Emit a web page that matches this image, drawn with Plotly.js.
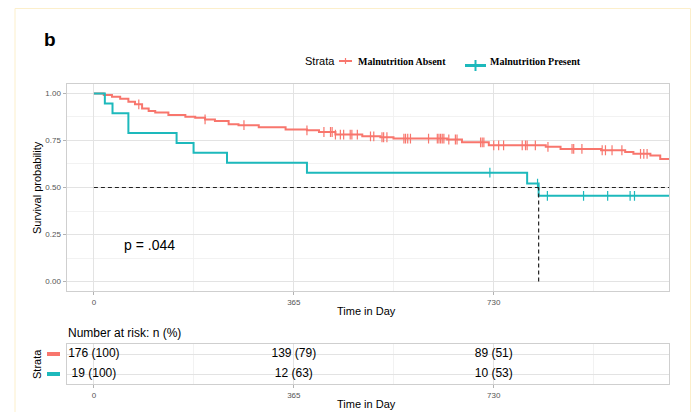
<!DOCTYPE html>
<html>
<head>
<meta charset="utf-8">
<script src="https://cdn.plot.ly/plotly-3.0.1.min.js"></script>
<style>html,body{margin:0;padding:0;background:#fff;}#chart{width:698px;height:412px;}</style>
</head>
<body>
<div id="chart"></div>
<script>
// ---- Data ----
const absentTimes = [0, 18, 33, 48, 63, 75, 88, 100, 112, 136, 167, 185, 203, 221, 246, 264, 301, 350, 389, 411, 441, 490, 523, 547, 645, 672, 721, 825, 852, 926, 970, 985, 1016, 1034, 1060];
const absentSurv  = [1.000, 0.991, 0.982, 0.972, 0.956, 0.942, 0.920, 0.907, 0.898, 0.885, 0.876, 0.871, 0.862, 0.854, 0.836, 0.831, 0.820, 0.808, 0.804, 0.795, 0.781, 0.772, 0.767, 0.760, 0.755, 0.740, 0.724, 0.716, 0.705, 0.698, 0.689, 0.679, 0.670, 0.652, 0.652];
const absentCensor = [82, 203, 274, 389, 420, 432, 435, 441, 450, 456, 468, 471, 481, 505, 511, 526, 529, 535, 566, 569, 573, 578, 611, 627, 630, 633, 636, 639, 648, 660, 663, 706, 709, 712, 730, 739, 748, 782, 788, 791, 806, 829, 873, 876, 891, 928, 934, 946, 964, 998, 1004, 1010];

const presentTimes = [0, 20, 34, 63, 151, 182, 243, 389, 791, 812, 1060];
const presentSurv  = [1.000, 0.947, 0.895, 0.789, 0.737, 0.684, 0.632, 0.579, 0.521, 0.456, 0.456];
const presentCensor = [723, 810, 828, 894, 938, 979, 987];

const riskTimes = [0, 365, 730];
const riskAbsent = ["176 (100)", "139 (79)", "89 (51)"];
const riskPresent = ["19 (100)", "12 (63)", "10 (53)"];

const xTicks = [0, 365, 730];
const yTicks = [0, 0.25, 0.5, 0.75, 1];
const yTickText = ["0.00", "0.25", "0.50", "0.75", "1.00"];
const pValueText = "p = .044";

// ---- Styles ----
const RED = "#F8766D";
const TEAL = "#1DB9BC";
const W = 698, H = 412;
const px = v => v / W;
const py = v => 1 - v / H;

function stepAt(ts, ss, t) {
  let v = ss[0];
  for (let i = 0; i < ts.length; i++) if (ts[i] <= t) v = ss[i];
  return v;
}
function median(ts, ss) {
  for (let i = 0; i < ts.length; i++) if (ss[i] <= 0.5) return ts[i];
  return null;
}

const traces = [
  {x: absentTimes, y: absentSurv, type: "scatter", mode: "lines", line: {shape: "hv", color: RED, width: 2}, xaxis: "x", yaxis: "y", hoverinfo: "skip"},
  {x: absentCensor, y: absentCensor.map(t => stepAt(absentTimes, absentSurv, t)), type: "scatter", mode: "markers",
   marker: {symbol: "line-ns", size: 7, line: {color: RED, width: 1.2}}, xaxis: "x", yaxis: "y", hoverinfo: "skip"},
  {x: presentTimes, y: presentSurv, type: "scatter", mode: "lines", line: {shape: "hv", color: TEAL, width: 2}, xaxis: "x", yaxis: "y", hoverinfo: "skip"},
  {x: presentCensor, y: presentCensor.map(t => stepAt(presentTimes, presentSurv, t)), type: "scatter", mode: "markers",
   marker: {symbol: "line-ns", size: 7, line: {color: TEAL, width: 1.2}}, xaxis: "x", yaxis: "y", hoverinfo: "skip"},
  {x: riskTimes, y: riskTimes.map(() => 2), text: riskAbsent, type: "scatter", mode: "text", textposition: "middle center",
   textfont: {family: "Liberation Sans, Arial, sans-serif", size: 12, color: "#000"}, xaxis: "x2", yaxis: "y2", hoverinfo: "skip"},
  {x: riskTimes, y: riskTimes.map(() => 1), text: riskPresent, type: "scatter", mode: "text", textposition: "middle center",
   textfont: {family: "Liberation Sans, Arial, sans-serif", size: 12, color: "#000"}, xaxis: "x2", yaxis: "y2", hoverinfo: "skip"}
];

const med = median(presentTimes, presentSurv);
const FONT = "Liberation Sans, Arial, sans-serif";
const SERIF = "Liberation Serif, Times New Roman, serif";

const axisCommon = {
  showline: true, mirror: true, linecolor: "#cfcfcf", linewidth: 1,
  gridcolor: "#e3e3e3", gridwidth: 1, zeroline: false,
  ticks: "outside", ticklen: 3, tickcolor: "#b3b3b3",
  tickfont: {family: FONT, size: 8, color: "#555"}, automargin: false
};

const layout = {
  width: W, height: H,
  margin: {l: 0, r: 0, t: 0, b: 0},
  paper_bgcolor: "#fff", plot_bgcolor: "#fff",
  showlegend: false,
  xaxis: Object.assign({}, axisCommon, {domain: [px(66.5), px(669)], range: [-50, 1050], anchor: "y",
    tickmode: "array", tickvals: xTicks, ticktext: xTicks.map(String),
    minor: {tick0: 0, dtick: 182.5, gridcolor: "#efefef", gridwidth: 0.8, showgrid: true}}),
  yaxis: Object.assign({}, axisCommon, {domain: [py(291), py(84)], range: [-0.05, 1.05], anchor: "x",
    tickmode: "array", tickvals: yTicks, ticktext: yTickText,
    minor: {tick0: 0, dtick: 0.125, gridcolor: "#efefef", gridwidth: 0.8, showgrid: true}}),
  xaxis2: Object.assign({}, axisCommon, {domain: [px(66.5), px(669)], range: [-50, 1050], anchor: "y2",
    tickmode: "array", tickvals: xTicks, ticktext: xTicks.map(String),
    minor: {tick0: 0, dtick: 182.5, gridcolor: "#efefef", gridwidth: 0.8, showgrid: true}}),
  yaxis2: Object.assign({}, axisCommon, {domain: [py(384), py(344)], range: [0.5, 2.5], anchor: "x2",
    tickmode: "array", tickvals: [1, 2], showticklabels: false, ticks: ""}),
  shapes: [
    // outer frame
    {type: "rect", xref: "paper", yref: "paper", x0: px(15), x1: px(690.5), y0: -0.05, y1: py(8.5),
     line: {color: "#fcefcb", width: 1}, layer: "below"},
    // median lines
    {type: "line", xref: "x", yref: "y", x0: 0, x1: 1050, y0: 0.5, y1: 0.5, line: {color: "#222", width: 1.2, dash: "4px,3px"}},
    {type: "line", xref: "x", yref: "y", x0: med, x1: med, y0: 0, y1: 0.5, line: {color: "#222", width: 1.2, dash: "4px,3px"}},
    // risk-table colour keys
    {type: "line", xref: "paper", yref: "y2", x0: px(47), x1: px(60), y0: 2, y1: 2, line: {color: RED, width: 4}},
    {type: "line", xref: "paper", yref: "y2", x0: px(47), x1: px(60), y0: 1, y1: 1, line: {color: TEAL, width: 4}},
    // legend keys
    {type: "line", xref: "paper", yref: "paper", x0: px(339), x1: px(352), y0: py(61), y1: py(61), line: {color: RED, width: 2}},
    {type: "line", xref: "paper", yref: "paper", x0: px(345.5), x1: px(345.5), y0: py(58), y1: py(64), line: {color: RED, width: 1.2}},
    {type: "line", xref: "paper", yref: "paper", x0: px(465), x1: px(486), y0: py(65.5), y1: py(65.5), line: {color: TEAL, width: 3}},
    {type: "line", xref: "paper", yref: "paper", x0: px(475.5), x1: px(475.5), y0: py(60), y1: py(71), line: {color: TEAL, width: 2}}
  ],
  annotations: [
    {text: "<b>b</b>", xref: "paper", yref: "paper", x: px(42), y: py(40), xanchor: "left", yanchor: "middle", showarrow: false,
     font: {family: FONT, size: 19, color: "#000"}},
    {text: "Strata", xref: "paper", yref: "paper", x: px(303), y: py(61), xanchor: "left", yanchor: "middle", showarrow: false,
     font: {family: FONT, size: 11, color: "#000"}},
    {text: "<b>Malnutrition Absent</b>", xref: "paper", yref: "paper", x: px(356), y: py(61), xanchor: "left", yanchor: "middle", showarrow: false,
     font: {family: SERIF, size: 10, color: "#000"}},
    {text: "<b>Malnutrition Present</b>", xref: "paper", yref: "paper", x: px(488), y: py(62), xanchor: "left", yanchor: "middle", showarrow: false,
     font: {family: SERIF, size: 10, color: "#000"}},
    {text: "Survival probability", xref: "paper", yref: "paper", x: px(37), y: py(188), textangle: -90, xanchor: "center", yanchor: "middle", showarrow: false,
     font: {family: FONT, size: 11, color: "#000"}},
    {text: "Time in Day", xref: "paper", yref: "paper", x: px(367), y: py(311), xanchor: "center", yanchor: "middle", showarrow: false,
     font: {family: FONT, size: 11, color: "#000"}},
    {text: pValueText, xref: "x", yref: "y", x: 52, y: 0.194, xanchor: "left", yanchor: "middle", showarrow: false,
     font: {family: FONT, size: 14, color: "#000"}},
    {text: "Number at risk: n (%)", xref: "paper", yref: "paper", x: px(66), y: py(332.5), xanchor: "left", yanchor: "middle", showarrow: false,
     font: {family: FONT, size: 12, color: "#000"}},
    {text: "Strata", xref: "paper", yref: "paper", x: px(37), y: py(364), textangle: -90, xanchor: "center", yanchor: "middle", showarrow: false,
     font: {family: FONT, size: 11, color: "#000"}},
    {text: "Time in Day", xref: "paper", yref: "paper", x: px(367), y: py(404), xanchor: "center", yanchor: "middle", showarrow: false,
     font: {family: FONT, size: 11, color: "#000"}}
  ]
};

Plotly.newPlot("chart", traces, layout, {displayModeBar: false, staticPlot: true});
</script>
</body>
</html>
